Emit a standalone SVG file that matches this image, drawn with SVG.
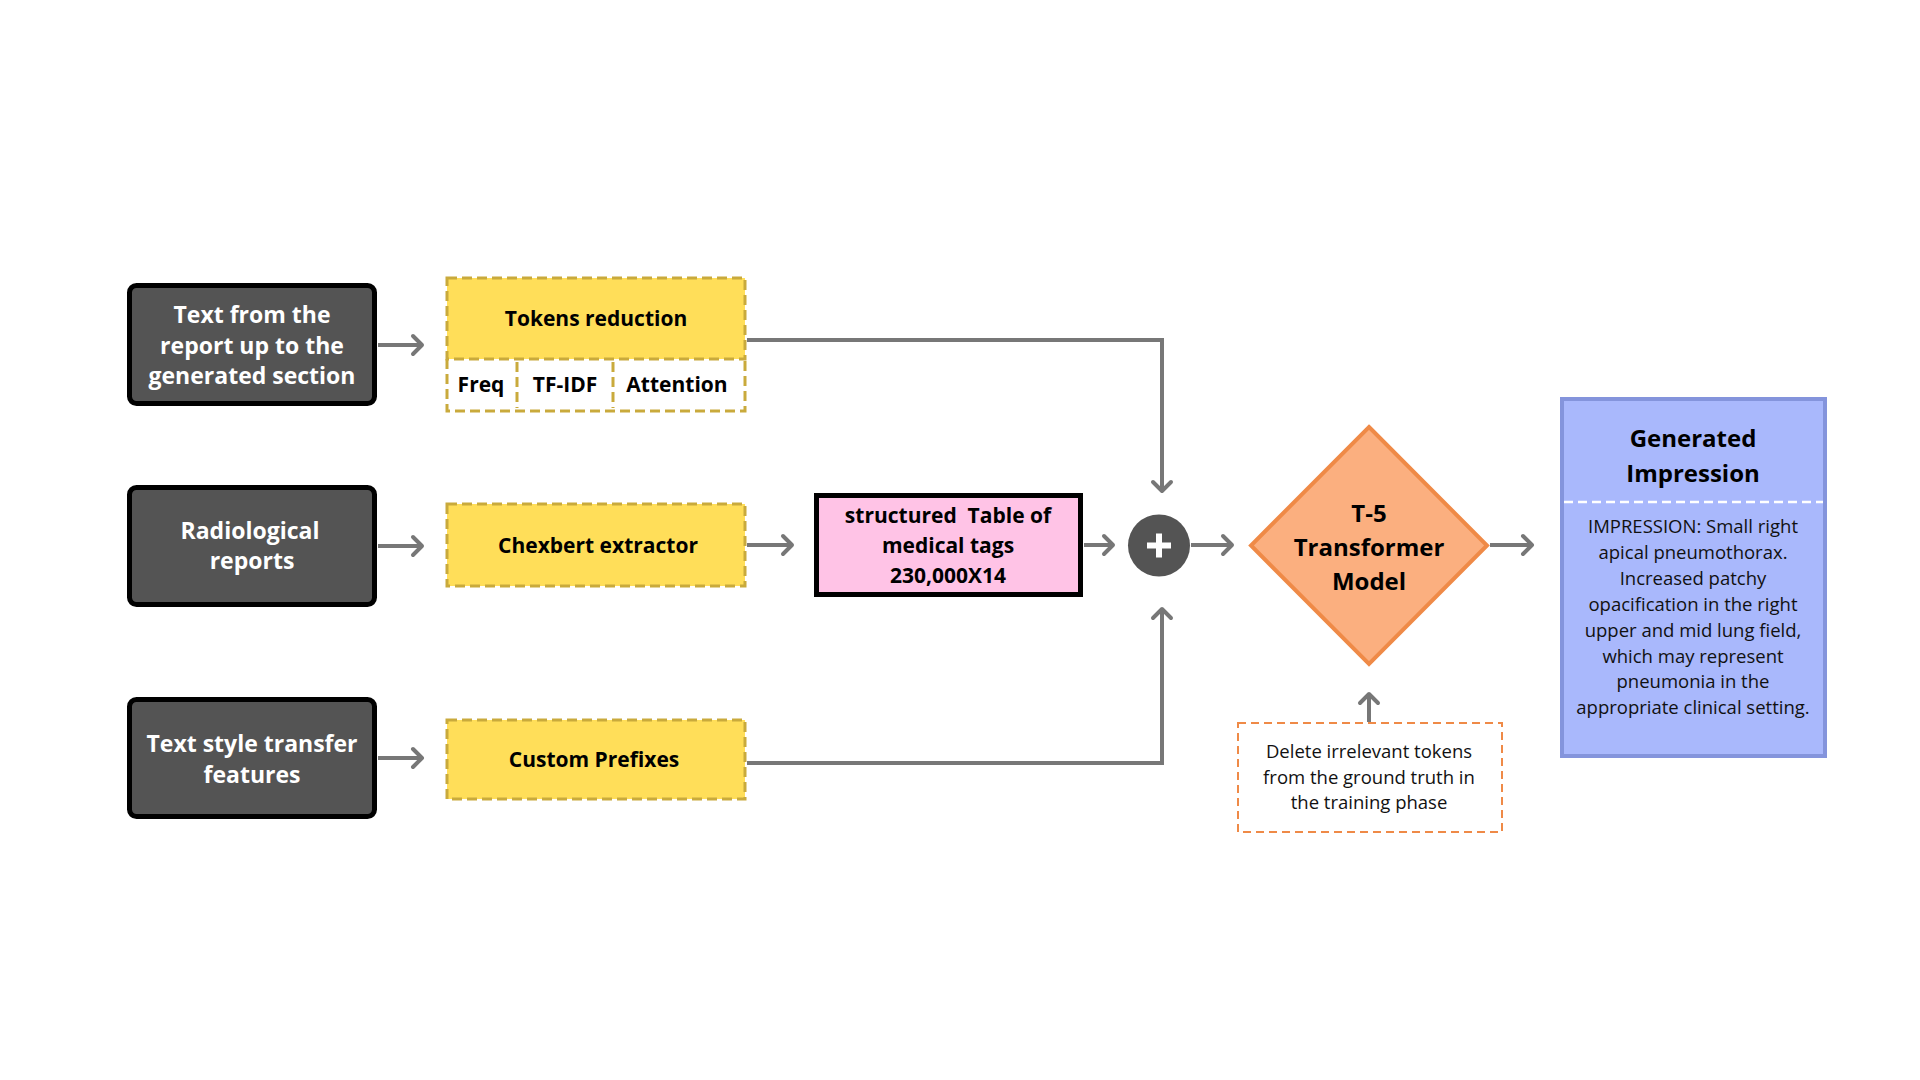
<svg xmlns="http://www.w3.org/2000/svg" width="1920" height="1080" viewBox="0 0 1920 1080">
  <style>
    .src rect { fill: #545454; stroke: #000; stroke-width: 5; }
    .src text { fill: #fff; font: bold 23px "Open Sans", "Noto Sans", sans-serif; text-anchor: middle; }
    .step rect.bg { fill: #FFDE59; }
    .dash { fill: none; stroke: #C9AA3C; stroke-width: 3; stroke-dasharray: 10 5; }
    .step text { fill: #000; font: bold 21px "Open Sans", "Noto Sans", sans-serif; text-anchor: middle; }
    .bold { font-family: "Open Sans", "Noto Sans", sans-serif; font-weight: bold; text-anchor: middle; fill: #000; }
    .plain { font-family: "Open Sans", "Noto Sans", sans-serif; font-size: 18.5px; text-anchor: middle; fill: #111; }
    .conn path { fill: none; stroke: #777; stroke-width: 4; marker-end: url(#arr); }
  </style>
  <defs>
    <marker id="arr" viewBox="-12 -12 15 24" refX="0" refY="0" markerWidth="15" markerHeight="24" orient="auto" markerUnits="userSpaceOnUse">
      <path d="M-9,-9 L0,0 L-9,9" fill="none" stroke="#777" stroke-width="4" stroke-linecap="round" stroke-linejoin="round"/>
    </marker>
  </defs>

  <rect width="1920" height="1080" fill="#fff"/>

  <!-- connectors -->
  <g id="connectors" class="conn">
    <path d="M378,345 H422"/>
    <path d="M378,546 H422"/>
    <path d="M378,758 H422"/>
    <path d="M747,340 H1162 V491"/>
    <path d="M747,545 H792"/>
    <path d="M1084,545 H1113"/>
    <path d="M747,763 H1162 V609"/>
    <path d="M1191,545 H1232"/>
    <path d="M1490,545 H1532"/>
    <path d="M1369,722 V694"/>
  </g>

  <!-- input sources -->
  <g id="src-report-text" class="src">
    <rect x="129.5" y="285.5" width="245" height="118" rx="7"/>
    <text x="252" y="323">Text from the</text>
    <text x="252" y="353.5">report up to the</text>
    <text x="252" y="384">generated section</text>
  </g>
  <g id="src-radiological" class="src">
    <rect x="129.5" y="487.5" width="245" height="117" rx="7"/>
    <text x="250" y="539">Radiological</text>
    <text x="252" y="569">reports</text>
  </g>
  <g id="src-style" class="src">
    <rect x="129.5" y="699.5" width="245" height="117" rx="7"/>
    <text x="252" y="752">Text style transfer</text>
    <text x="252" y="783">features</text>
  </g>

  <!-- processing steps -->
  <g id="tokens-reduction" class="step">
    <rect class="bg" x="447" y="278" width="298" height="81"/>
    <rect x="447" y="359" width="298" height="52" fill="#fff"/>
    <rect class="dash" x="447" y="278" width="298" height="81"/>
    <path class="dash" d="M447,359 V411 H745 V359 M517,362 V408 M613,362 V408"/>
    <text x="596" y="326">Tokens reduction</text>
    <text x="481" y="392">Freq</text>
    <text x="565" y="392">TF-IDF</text>
    <text x="677" y="392">Attention</text>
  </g>
  <g id="chexbert" class="step">
    <rect class="bg" x="447" y="504" width="298" height="82"/>
    <rect class="dash" x="447" y="504" width="298" height="82"/>
    <text x="598" y="553">Chexbert extractor</text>
  </g>
  <g id="custom-prefixes" class="step">
    <rect class="bg" x="447" y="720" width="298" height="79"/>
    <rect class="dash" x="447" y="720" width="298" height="79"/>
    <text x="594" y="767">Custom Prefixes</text>
  </g>

  <!-- structured table of tags -->
  <g id="tag-table">
    <rect x="816.5" y="495.5" width="264" height="99" fill="#FFC3E6" stroke="#000" stroke-width="5"/>
    <text class="bold" font-size="21" x="948" y="523" xml:space="preserve">structured  Table of</text>
    <text class="bold" font-size="21" x="948" y="553">medical tags</text>
    <text class="bold" font-size="21" x="948" y="583">230,000X14</text>
  </g>

  <!-- concatenation -->
  <g id="concat">
    <circle cx="1159" cy="545.5" r="31" fill="#545454"/>
    <rect x="1147" y="542.5" width="24" height="6" fill="#fff"/>
    <rect x="1156" y="533.5" width="6" height="24" fill="#fff"/>
  </g>

  <!-- model -->
  <g id="t5-model">
    <polygon points="1369,427 1487,545.5 1369,664 1251,545.5" fill="#FBAF7F" stroke="#EF8A47" stroke-width="4" stroke-linejoin="miter"/>
    <text class="bold" font-size="24" x="1369" y="522">T-5</text>
    <text class="bold" font-size="24" x="1369" y="556">Transformer</text>
    <text class="bold" font-size="24" x="1369" y="590">Model</text>
  </g>

  <!-- training note -->
  <g id="training-note">
    <rect x="1238" y="723" width="264" height="109" fill="none" stroke="#EF8A47" stroke-width="2" stroke-dasharray="8 5"/>
    <text class="plain" x="1369" y="758">Delete irrelevant tokens</text>
    <text class="plain" x="1369" y="784">from the ground truth in</text>
    <text class="plain" x="1369" y="809">the training phase</text>
  </g>

  <!-- output -->
  <g id="generated-impression">
    <rect x="1562" y="399" width="263" height="357" fill="#A9B8FC" stroke="#8494DC" stroke-width="4"/>
    <line x1="1564" y1="502" x2="1823" y2="502" stroke="#fff" stroke-width="2.5" stroke-dasharray="9 5"/>
    <text class="bold" font-size="24" x="1693" y="447">Generated</text>
    <text class="bold" font-size="24" x="1693" y="482">Impression</text>
    <text class="plain" x="1693" y="533">IMPRESSION: Small right</text>
    <text class="plain" x="1693" y="559">apical pneumothorax.</text>
    <text class="plain" x="1693" y="585">Increased patchy</text>
    <text class="plain" x="1693" y="611">opacification in the right</text>
    <text class="plain" x="1693" y="637">upper and mid lung field,</text>
    <text class="plain" x="1693" y="663">which may represent</text>
    <text class="plain" x="1693" y="688">pneumonia in the</text>
    <text class="plain" x="1693" y="714">appropriate clinical setting.</text>
  </g>
</svg>
